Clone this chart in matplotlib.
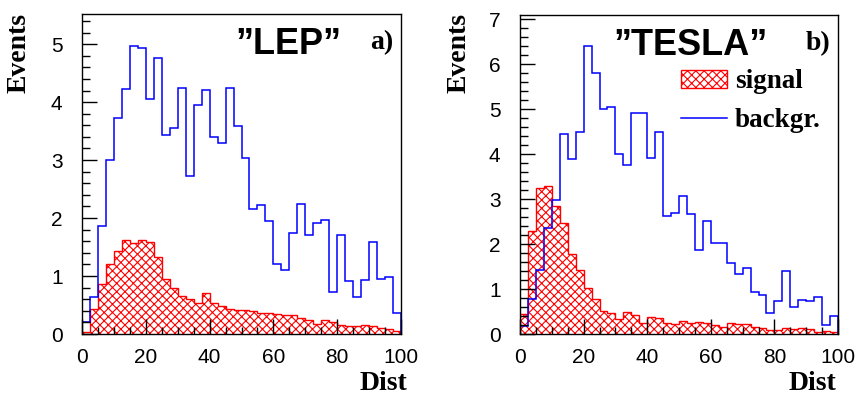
import numpy as np
import matplotlib
matplotlib.use("Agg")
import matplotlib.pyplot as plt
from matplotlib.patches import Patch
from matplotlib.lines import Line2D
from matplotlib.ticker import MultipleLocator

# ---- data ----
edges = np.linspace(0, 100, 41)

lep_background = [0.20, 0.64, 1.87, 3.01, 3.72, 4.22, 4.96, 4.94, 4.06, 4.76,
                  3.43, 3.56, 4.24, 2.72, 3.95, 4.21, 3.40, 3.29, 4.25, 3.59,
                  3.03, 2.16, 2.23, 1.95, 1.21, 1.10, 1.75, 2.24, 1.70, 1.91,
                  1.97, 0.73, 1.70, 0.92, 0.63, 0.94, 1.59, 0.95, 0.98, 0.37]
lep_signal = [0.04, 0.43, 0.86, 1.20, 1.44, 1.62, 1.57, 1.62, 1.59, 1.32,
              0.95, 0.79, 0.66, 0.61, 0.53, 0.71, 0.54, 0.49, 0.43, 0.41,
              0.42, 0.40, 0.37, 0.36, 0.34, 0.33, 0.32, 0.27, 0.25, 0.17,
              0.24, 0.20, 0.15, 0.14, 0.14, 0.15, 0.13, 0.11, 0.09, 0.05]

tesla_background = [0.18, 0.79, 1.43, 2.35, 2.98, 4.46, 3.89, 4.49, 6.40, 5.81,
                    5.00, 5.06, 4.00, 3.76, 4.91, 4.91, 3.92, 4.49, 2.63, 2.70,
                    3.08, 2.67, 1.86, 2.52, 2.02, 2.02, 1.57, 1.33, 1.47, 0.93,
                    0.87, 0.47, 0.74, 1.41, 0.59, 0.76, 0.73, 0.82, 0.21, 0.40]
tesla_signal = [0.45, 2.30, 3.24, 3.30, 2.85, 2.47, 1.78, 1.43, 1.02, 0.79,
                0.51, 0.47, 0.33, 0.49, 0.43, 0.25, 0.37, 0.36, 0.24, 0.22,
                0.29, 0.24, 0.27, 0.24, 0.21, 0.16, 0.25, 0.22, 0.22, 0.16,
                0.14, 0.10, 0.10, 0.13, 0.12, 0.13, 0.12, 0.05, 0.07, 0.05]

titles = ["\u201dLEP\u201d", "\u201dTESLA\u201d"]
tags = ["a)", "b)"]
legend_labels = ["signal", "backgr."]
x_ticks = [0, 20, 40, 60, 80, 100]

SANS = ["Liberation Sans", "DejaVu Sans"]
SERIF = ["Liberation Serif", "DejaVu Serif"]
plt.rcParams['font.family'] = SANS
plt.rcParams['hatch.linewidth'] = 0.8

W, H = 868, 397
fig = plt.figure(figsize=(W / 100, H / 100), dpi=100)

def px_axes(l, r, t, b):
    return fig.add_axes([l / W, 1 - b / H, (r - l) / W, (b - t) / H])

axA = px_axes(82, 401, 14, 334)
axB = px_axes(520, 838, 15, 334)

panels = [
    (axA, lep_signal, lep_background, 5.52, (0.646, 0.875), (0.94, 0.889)),
    (axB, tesla_signal, tesla_background, 7.1, (0.536, 0.875), (0.936, 0.89)),
]

HATCH = "xxxx"

for i, (ax, sig, bkg, ymax, tpos, lpos) in enumerate(panels):
    ax.stairs(sig, edges, fill=True, facecolor="none", edgecolor="red",
              hatch=HATCH, linewidth=1.0)
    ax.stairs(bkg, edges, color="blue", linewidth=1.1)
    ax.set_xlim(0, 100)
    ax.set_ylim(0, ymax)
    ax.set_xticks(x_ticks)
    ax.xaxis.set_minor_locator(MultipleLocator(5))
    ax.yaxis.set_major_locator(MultipleLocator(1))
    ax.yaxis.set_minor_locator(MultipleLocator(0.2))
    ax.tick_params(which="both", direction="in", top=False, right=False,
                   labelsize=15, width=1)
    ax.tick_params(axis="x", which="major", length=11, pad=10)
    ax.tick_params(axis="x", which="minor", length=5)
    ax.tick_params(axis="y", which="major", length=11, pad=14)
    ax.tick_params(axis="y", which="minor", length=5.5)
    for s in ax.spines.values():
        s.set_linewidth(1)
    ax.text(tpos[0], tpos[1], titles[i], transform=ax.transAxes, ha="center",
            va="baseline", fontsize=26, fontweight="bold", family=SANS)
    ax.text(lpos[0], lpos[1], tags[i], transform=ax.transAxes, ha="center",
            va="baseline", fontsize=20, fontweight="bold", family=SERIF)

# axis titles
for xl, xr in [(19, 407), (459, 836)]:
    fig.text(xl / W, 1 - 13 / H, "Events", rotation=90, ha="center", va="top",
             fontsize=20, fontweight="bold", family=SERIF)
    fig.text(xr / W, 1 - 384 / H, "Dist", ha="right", va="center",
             fontsize=20, fontweight="bold", family=SERIF)

handles = [Patch(facecolor="none", edgecolor="red", hatch=HATCH, linewidth=1.0),
           Line2D([], [], color="blue", linewidth=1.1)]
axB.legend(handles, legend_labels, loc="upper left",
           bbox_to_anchor=(0.506, 0.83), frameon=False, borderpad=0,
           borderaxespad=0, handlelength=1.7, handleheight=0.63,
           handletextpad=0.3, labelspacing=0.52,
           prop={"family": SERIF, "weight": "bold", "size": 19.5})

fig.savefig("out.png", dpi=100)
